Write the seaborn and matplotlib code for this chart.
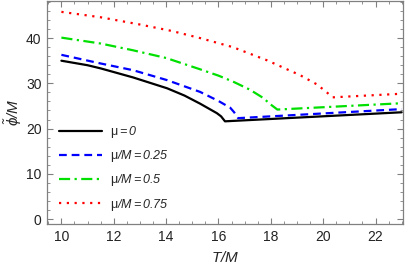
import numpy as np
import pandas as pd
import matplotlib
matplotlib.use("Agg")
import matplotlib.pyplot as plt
import seaborn as sns
from matplotlib.ticker import MultipleLocator

sns.set_theme(style="white")
plt.rcParams['font.family'] = ['Liberation Sans', 'DejaVu Sans']
plt.rcParams['mathtext.fontset'] = 'custom'
plt.rcParams['mathtext.it'] = 'Liberation Sans:italic'
plt.rcParams['mathtext.rm'] = 'Liberation Sans:italic'
plt.rcParams['mathtext.default'] = 'it'

# Data
T_mu0 = [10, 11, 11.5, 12.74, 14.04, 14.7, 15.3, 15.94, 16.1, 16.25, 23]
phi_mu0 = [35.0, 34.0, 33.3, 31.3, 28.9, 27.3, 25.5, 23.4, 22.7, 21.6, 23.6]

T_mu025 = [10, 11.49, 12.74, 14.04, 15.3, 16.0, 16.45, 16.6, 16.75, 23]
phi_mu025 = [36.3, 34.4, 32.9, 30.7, 28.1, 26.1, 24.6, 23.6, 22.3, 24.3]

T_mu05 = [10, 11.5, 12.74, 14.0, 15.3, 16.0, 16.55, 17.2, 17.7, 18.0, 18.25, 23]
phi_mu05 = [40.1, 38.8, 37.3, 35.6, 33.1, 31.7, 30.4, 28.6, 26.8, 25.3, 24.2, 25.6]

T_mu075 = [10, 11.5, 13, 14.2, 15.3, 16.55, 17.85, 19.12, 19.75, 20.1, 20.36, 23]
phi_mu075 = [45.8, 44.6, 43.0, 41.6, 40.0, 38.0, 35.1, 31.8, 29.8, 28.2, 26.9, 27.7]

labels = ["μ${=}0$", "μ$/M{=}0.25$", "μ$/M{=}0.5$", "μ$/M{=}0.75$"]

series = [
    (T_mu0, phi_mu0, labels[0], 'black', '-'),
    (T_mu025, phi_mu025, labels[1], '#0000ff', (0, (3.5, 2.2))),
    (T_mu05, phi_mu05, labels[2], '#00e000', (0, (5, 2, 1, 2))),
    (T_mu075, phi_mu075, labels[3], '#ff0000', (0, (1, 2.5))),
]

fig = plt.figure(figsize=(4.09, 2.73), dpi=100)
ax = fig.add_axes([47/409, 1 - 224/273, 356/409, 223/273])

for T, phi, lab, col, ls in series:
    df = pd.DataFrame({'T': T, 'phi': phi})
    sns.lineplot(data=df, x='T', y='phi', ax=ax, color=col, linestyle=ls,
                 linewidth=1.6, label=lab, sort=False)

ax.set_xlim(9.45, 23.05)
ax.set_ylim(-1.1, 48.2)
ax.xaxis.set_major_locator(MultipleLocator(2))
ax.xaxis.set_minor_locator(MultipleLocator(0.5))
ax.yaxis.set_major_locator(MultipleLocator(10))
ax.yaxis.set_minor_locator(MultipleLocator(2))
ax.tick_params(which='both', direction='in', top=True, right=True, bottom=True,
               left=True, color='#808080')
ax.tick_params(which='major', length=4, width=0.8, labelsize=10, pad=4, labelcolor='#222222')
ax.tick_params(which='minor', length=2.2, width=0.6)
for s in ax.spines.values():
    s.set_color('#808080')
    s.set_linewidth(0.9)

ax.set_xlabel('$T/M$', fontsize=11, labelpad=5)
ax.set_ylabel(r'$\tilde{\phi}/M$', fontsize=11, labelpad=1)

leg = ax.legend(loc='upper left', bbox_to_anchor=(0.02, 0.47), frameon=False,
                fontsize=9, handlelength=3.45, labelspacing=0.65, handletextpad=0.6,
                borderaxespad=0)

fig.savefig('out.png', dpi=100)
